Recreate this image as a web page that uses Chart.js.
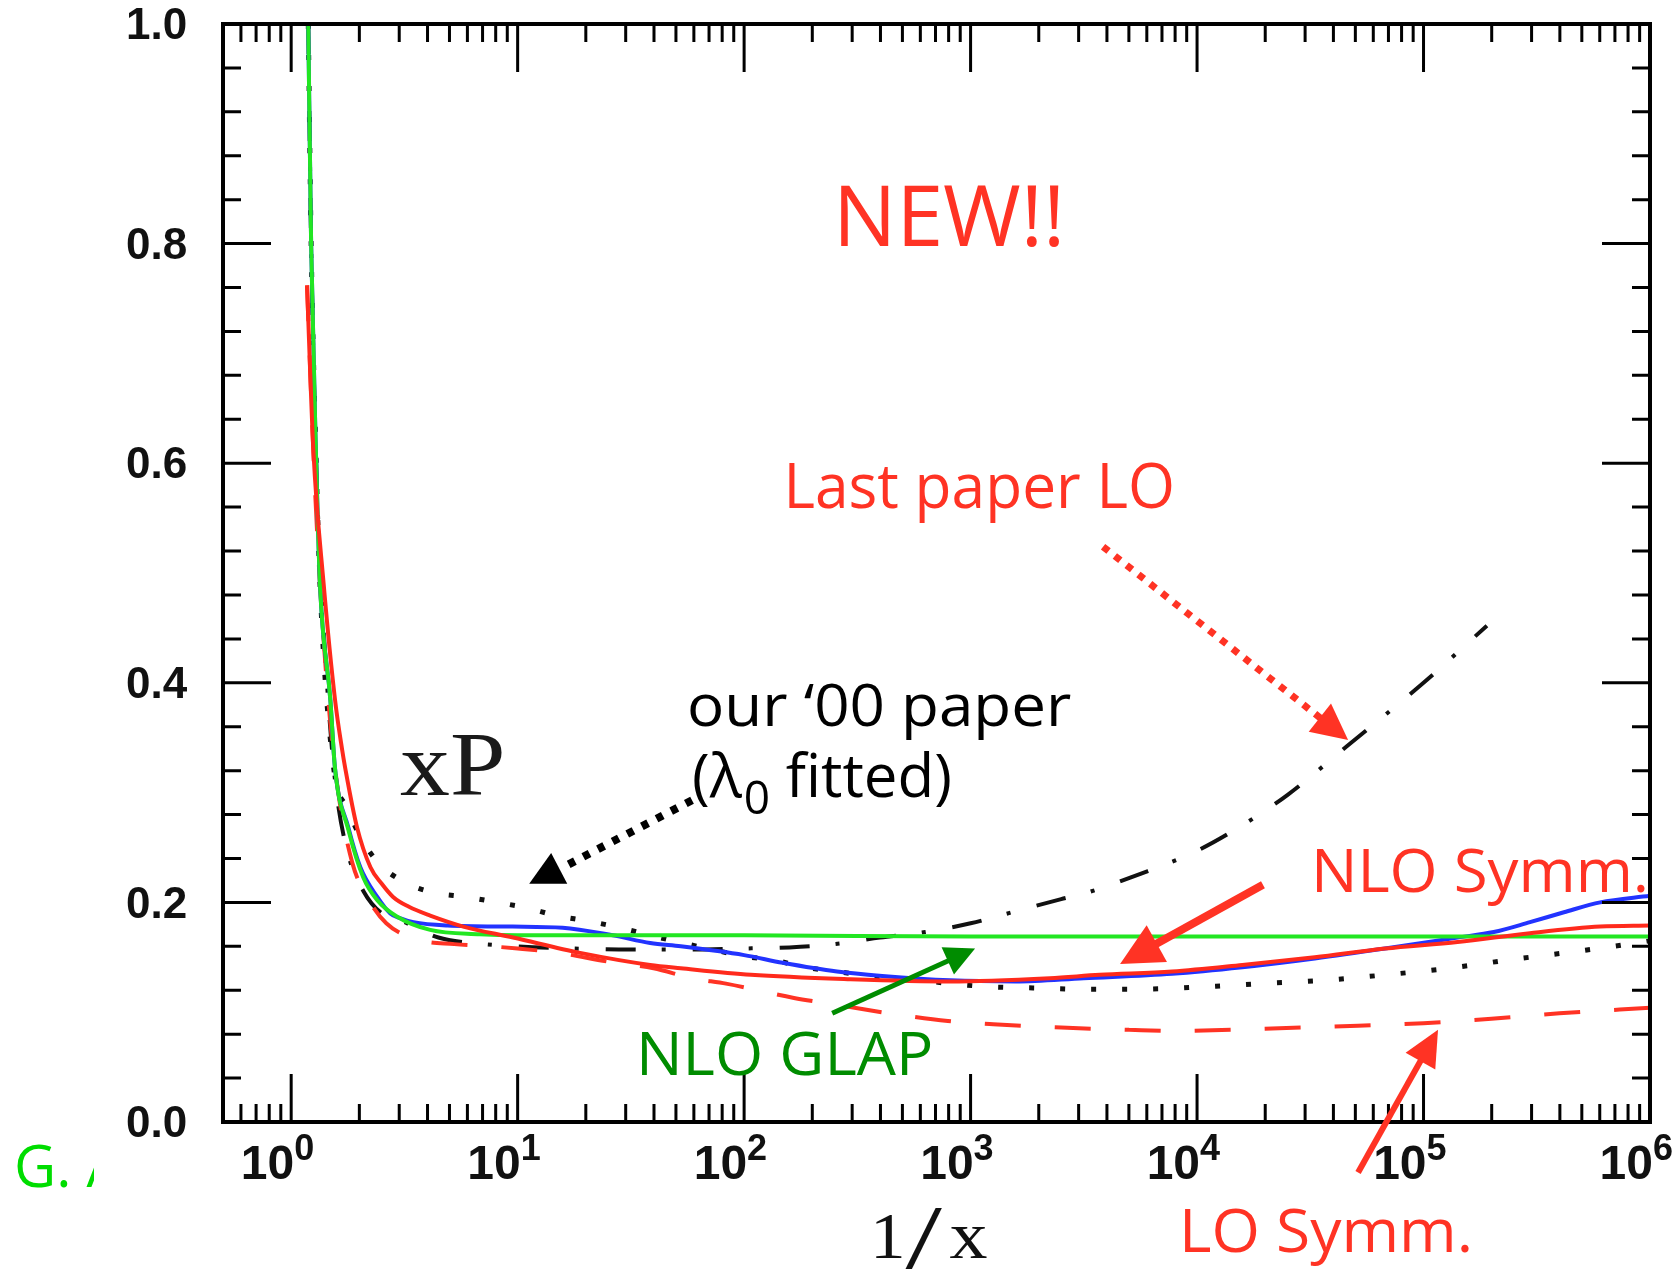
<!DOCTYPE html>
<html>
<head>
<meta charset="utf-8">
<title>xP vs 1/x</title>
<script src="https://cdn.jsdelivr.net/npm/chart.js@4.4.1/dist/chart.umd.min.js"></script>
<style>
  html, body { margin: 0; padding: 0; background: #fff; }
  #wrap { width: 1677px; height: 1271px; }
</style>
</head>
<body>
<div id="wrap"><canvas id="grafico" width="1677" height="1271"></canvas></div>
<script>
// Curves: x = 1/x (log scale), y = xP

// NLO GLAP (green, solid)
const glapX = [1.19, 1.225, 1.29, 1.34, 1.49, 1.56, 1.79, 2.08, 2.40, 2.94, 4.11, 6.8, 10, 100, 1e3, 1e4, 1e5, 1e6];
const glapY = [1.0, 0.80, 0.60, 0.49, 0.384, 0.323, 0.266, 0.223, 0.202, 0.187, 0.175, 0.171, 0.170, 0.170, 0.169, 0.169, 0.169, 0.169];

// blue solid curve
const blueX = [1.19, 1.225, 1.29, 1.34, 1.49, 1.56, 1.79, 2.02, 2.40, 2.74, 3.0, 3.47, 4.9, 9.5, 15.8, 26.3, 38.5, 52.5, 100, 148, 257, 407, 813, 1585, 3162, 7762, 15850, 33110, 67610, 141300, 204200, 295100, 416900, 602600, 1e6];
const blueY = [1.0, 0.80, 0.60, 0.49, 0.384, 0.323, 0.268, 0.232, 0.205, 0.190, 0.186, 0.182, 0.179, 0.178, 0.177, 0.170, 0.163, 0.160, 0.152, 0.145, 0.137, 0.133, 0.129, 0.128, 0.131, 0.135, 0.141, 0.149, 0.158, 0.168, 0.173, 0.182, 0.191, 0.200, 0.206];

// NLO Symm. (red, solid)
const nloSymmX = [1.175, 1.253, 1.39, 1.563, 1.679, 1.73, 1.95, 2.239, 2.512, 2.818, 3.311, 4.11, 5.754, 9.55, 18.88, 38.46, 52.48, 107.2, 295, 813, 2239, 3715, 7762, 15850, 33110, 67610, 141300, 295100, 602600, 1e6];
const nloSymmY = [0.762, 0.612, 0.491, 0.384, 0.339, 0.323, 0.269, 0.232, 0.217, 0.205, 0.196, 0.188, 0.178, 0.168, 0.154, 0.143, 0.140, 0.134, 0.130, 0.128, 0.131, 0.134, 0.137, 0.143, 0.150, 0.158, 0.164, 0.172, 0.178, 0.179];

// LO Symm. (red, dashed)
const loSymmX = [1.175, 1.259, 1.349, 1.479, 1.614, 1.862, 2.163, 2.63, 3.631, 5.248, 7.586, 10, 15.14, 25.12, 39.81, 58.88, 83.18, 166, 234, 437, 794, 1259, 2512, 5012, 7943, 19950, 39810, 1e5, 199500, 398100, 1e6];
const loSymmY = [0.762, 0.600, 0.480, 0.370, 0.300, 0.236, 0.205, 0.181, 0.166, 0.162, 0.160, 0.158, 0.154, 0.146, 0.140, 0.131, 0.126, 0.113, 0.108, 0.099, 0.092, 0.089, 0.086, 0.084, 0.083, 0.085, 0.087, 0.090, 0.094, 0.099, 0.104];

// Last paper LO (black, dash-dot)
const lastLoX = [1.19, 1.225, 1.29, 1.365, 1.486, 1.585, 1.778, 2.089, 2.512, 3.162, 4.467, 6.31, 10, 17.78, 31.62, 56.23, 100, 158.5, 251, 398, 631, 1000, 1585, 2512, 3162, 5623, 1e4, 15490, 25120, 45710, 1e5, 190500];
const lastLoY = [1.0, 0.80, 0.60, 0.48, 0.36, 0.30, 0.245, 0.21, 0.19, 0.182, 0.168, 0.163, 0.160, 0.158, 0.157, 0.157, 0.158, 0.159, 0.162, 0.168, 0.173, 0.181, 0.192, 0.203, 0.208, 0.226, 0.247, 0.269, 0.298, 0.342, 0.40, 0.452];

// our '00 paper (black, dotted)
const paper00X = [1.19, 1.225, 1.29, 1.34, 1.535, 1.778, 2.018, 2.427, 3.126, 4.236, 5.888, 8.128, 10.96, 14.79, 20.42, 28.18, 38.46, 53.7, 72.44, 100, 138, 186, 257, 355, 661, 912, 1259, 1995, 2951, 5623, 10470, 19050, 36310, 67610, 128800, 245500, 457100, 871000, 1e6];
const paper00Y = [1.0, 0.80, 0.60, 0.49, 0.325, 0.285, 0.26, 0.236, 0.219, 0.209, 0.205, 0.200, 0.195, 0.188, 0.183, 0.177, 0.170, 0.163, 0.157, 0.151, 0.147, 0.141, 0.137, 0.133, 0.128, 0.125, 0.123, 0.122, 0.121, 0.121, 0.123, 0.126, 0.129, 0.134, 0.140, 0.148, 0.155, 0.163, 0.165];

// Axis ticks
const xMajorTicks = [1, 10, 100, 1e3, 1e4, 1e5, 1e6];
const xTickExponents = ['0', '1', '2', '3', '4', '5', '6'];
const xMinorTicks = [];
[0.1, 1, 10, 100, 1e3, 1e4, 1e5].forEach(dec => {
    for (let k = 2; k <= 9; k++) {
        const v = k * dec;
        if (v > 0.5 && v < 1e6) xMinorTicks.push(v);
    }
});

const RED = '#ff3324';
const DARK_GREEN = '#008c00';

// Annotations, placed in (decade of 1/x, xP) coordinates
const notes = [
    { text: 'NEW!!', at: [2.428, 0.798], w: 218, font: '84px "Open Sans"', color: RED },
    { text: 'Last paper LO', at: [2.199, 0.559], w: 383, font: '63px "Open Sans"', color: RED },
    { text: 'our \u201800 paper', at: [1.762, 0.361], w: 381, font: '59px "Open Sans"', color: '#000' },
    { text: 'NLO Symm.', at: [4.525, 0.2095], w: 329, font: '61px "Open Sans"', color: RED },
    { text: 'NLO GLAP', at: [1.545, 0.0428], w: 289, font: '60px "Open Sans"', color: DARK_GREEN },
    { text: 'LO Symm.', at: [3.943, -0.118], w: 285, font: '60px "Open Sans"', color: RED },
    { text: 'xP', at: [0.481, 0.298], w: 102, font: '92px "Liberation Serif"', color: '#1a1a1a' }
];

const arrows = [
    { from: [3.585, 0.524], to: [4.667, 0.348], color: RED, width: 7, head: 36, half: 18, dash: [7, 8] },
    { from: [4.291, 0.216], to: [3.660, 0.144], color: RED, width: 8, head: 42, half: 21 },
    { from: [2.389, 0.099], to: [3.020, 0.158], color: DARK_GREEN, width: 5, head: 30, half: 15 },
    { from: [4.711, -0.046], to: [5.064, 0.084], color: RED, width: 6, head: 36, half: 17 }
];

function toPoints(xs, ys) {
    return xs.map((v, i) => ({ x: v, y: ys[i] }));
}

function makeLine(label, xs, ys, color, width, dash, order) {
    return {
        label: label,
        data: toPoints(xs, ys),
        borderColor: color,
        borderWidth: width,
        borderDash: dash,
        borderCapStyle: 'butt',
        pointRadius: 0,
        cubicInterpolationMode: 'monotone',
        fill: false,
        order: order
    };
}

// Text squeezed or stretched to the width measured on the picture
function fitText(ctx, str, x, y, w, font, color) {
    ctx.save();
    ctx.font = font;
    ctx.fillStyle = color;
    ctx.textAlign = 'left';
    const m = ctx.measureText(str);
    const ink = m.actualBoundingBoxLeft + m.actualBoundingBoxRight;
    const s = w / ink;
    ctx.translate(x, y);
    ctx.scale(s, 1);
    ctx.fillText(str, m.actualBoundingBoxLeft, 0);
    ctx.restore();
}

function drawArrow(ctx, x1, y1, x2, y2, o) {
    const dx = x2 - x1, dy = y2 - y1;
    const len = Math.hypot(dx, dy);
    const ux = dx / len, uy = dy / len;
    const bx = x2 - ux * o.head, by = y2 - uy * o.head;
    ctx.save();
    ctx.strokeStyle = o.color;
    ctx.fillStyle = o.color;
    ctx.lineWidth = o.width;
    ctx.lineCap = 'butt';
    ctx.setLineDash(o.dash || []);
    ctx.beginPath();
    ctx.moveTo(x1, y1);
    ctx.lineTo(bx + ux * 3, by + uy * 3);
    ctx.stroke();
    ctx.setLineDash([]);
    ctx.beginPath();
    ctx.moveTo(x2, y2);
    ctx.lineTo(bx - uy * o.half, by + ux * o.half);
    ctx.lineTo(bx + uy * o.half, by - ux * o.half);
    ctx.closePath();
    ctx.fill();
    ctx.restore();
}

const decoPlugin = {
    id: 'deco',
    afterDatasetsDraw(chart) {
        const { ctx, chartArea: a, scales } = chart;
        const xs = scales.x, ys = scales.y;

        // Frame and inward ticks on all four sides
        ctx.save();
        ctx.strokeStyle = '#000';
        ctx.lineCap = 'butt';
        ctx.lineWidth = 3;
        ctx.beginPath();
        const xTick = (v, len) => {
            const px = xs.getPixelForValue(v);
            ctx.moveTo(px, a.bottom); ctx.lineTo(px, a.bottom - len);
            ctx.moveTo(px, a.top); ctx.lineTo(px, a.top + len);
        };
        xMinorTicks.forEach(v => xTick(v, 18));
        xMajorTicks.forEach(v => xTick(v, 48));
        for (let k = 0; k <= 25; k++) {
            const py = ys.getPixelForValue(k * 0.04);
            const len = k % 5 === 0 ? 48 : 18;
            ctx.moveTo(a.left, py); ctx.lineTo(a.left + len, py);
            ctx.moveTo(a.right, py); ctx.lineTo(a.right - len, py);
        }
        ctx.stroke();
        ctx.lineWidth = 4;
        ctx.strokeRect(a.left, a.top, a.right - a.left, a.bottom - a.top);

        // x tick labels: 10 with exponent
        ctx.fillStyle = '#111';
        xMajorTicks.forEach((v, i) => {
            const px = xs.getPixelForValue(v);
            ctx.font = 'bold 48px "Liberation Sans"';
            ctx.textAlign = 'right';
            ctx.fillText('10', px + 3, a.bottom + 57);
            ctx.font = 'bold 36px "Liberation Sans"';
            ctx.textAlign = 'left';
            ctx.fillText(xTickExponents[i], px + 3, a.bottom + 38);
        });
        ctx.restore();
    },
    afterDraw(chart) {
        const { ctx, chartArea: a, scales } = chart;
        const P = pt => [scales.x.getPixelForValue(Math.pow(10, pt[0])), scales.y.getPixelForValue(pt[1])];

        notes.forEach(n => {
            const p = P(n.at);
            fitText(ctx, n.text, p[0], p[1], n.w, n.font, n.color);
        });

        // (λ0 fitted) with subscript
        ctx.save();
        const q = P([1.770, 0.296]);
        ctx.fillStyle = '#000';
        ctx.font = '60px "Open Sans"';
        ctx.fillText('(\u03bb', q[0], q[1]);
        let cx = q[0] + ctx.measureText('(\u03bb').width + 2;
        ctx.font = '46px "Open Sans"';
        ctx.fillText('0', cx, q[1] + 17);
        cx += ctx.measureText('0').width;
        ctx.font = '60px "Open Sans"';
        ctx.fillText(' fitted)', cx, q[1]);
        ctx.restore();

        arrows.forEach(o => {
            const f = P(o.from), t = P(o.to);
            drawArrow(ctx, f[0], f[1], t[0], t[1], o);
        });

        // black dotted arrow with upright head
        ctx.save();
        const t0 = P([1.770, 0.293]), t1 = P([1.210, 0.233]);
        ctx.strokeStyle = '#000';
        ctx.fillStyle = '#000';
        ctx.lineWidth = 8;
        ctx.setLineDash([7, 9.5]);
        ctx.beginPath();
        ctx.moveTo(t0[0], t0[1]);
        ctx.lineTo(t1[0], t1[1]);
        ctx.stroke();
        const h0 = P([1.148, 0.245]), h1 = P([1.051, 0.217]), h2 = P([1.219, 0.217]);
        ctx.beginPath();
        ctx.moveTo(h0[0], h0[1]);
        ctx.lineTo(h1[0], h1[1]);
        ctx.lineTo(h2[0], h2[1]);
        ctx.closePath();
        ctx.fill();
        ctx.restore();

        // axis title 1/x
        const mid = (a.left + a.right) / 2;
        fitText(ctx, '1', mid - 61, a.bottom + 136, 27, '66px "Liberation Serif"', '#111');
        fitText(ctx, '/', mid - 31, a.bottom + 146, 37, '92px "Liberation Serif"', '#111');
        fitText(ctx, 'x', mid + 13, a.bottom + 136, 38, '68px "Liberation Serif"', '#111');

        // clipped credit at lower left
        ctx.save();
        ctx.beginPath();
        ctx.rect(0, a.bottom, 94, 120);
        ctx.clip();
        ctx.fillStyle = '#00dd00';
        ctx.font = '58px "Open Sans"';
        ctx.fillText('G. A', 14, a.bottom + 65);
        ctx.restore();
    }
};

const chart = new Chart(document.getElementById('grafico'), {
    type: 'line',
    data: {
        datasets: [
            makeLine('NLO Symm.', nloSymmX, nloSymmY, '#ff2a1c', 4, [], 1),
            makeLine('NLO GLAP', glapX, glapY, '#22e622', 4, [], 2),
            makeLine('blue', blueX, blueY, '#2233ff', 4, [], 3),
            makeLine('LO Symm.', loSymmX, loSymmY, '#ff3324', 4, [36, 34], 4),
            makeLine('Last paper LO', lastLoX, lastLoY, '#111', 4, [30, 26, 4, 27], 5),
            makeLine("our '00 paper", paper00X, paper00Y, '#111', 5, [5, 26], 6)
        ]
    },
    options: {
        responsive: false,
        animation: false,
        devicePixelRatio: 1,
        layout: { padding: { top: 24, right: 27, bottom: 0, left: 126 } },
        plugins: { legend: { display: false }, tooltip: { enabled: false } },
        scales: {
            x: {
                type: 'logarithmic',
                min: 0.5,
                max: 1e6,
                ticks: { display: false },
                grid: { display: false, drawTicks: false },
                border: { display: false },
                afterFit: s => { s.height = 149; }
            },
            y: {
                min: 0,
                max: 1,
                ticks: {
                    stepSize: 0.2,
                    padding: 0,
                    crossAlign: 'far',
                    labelOffset: 3,
                    color: '#111',
                    font: { family: 'Liberation Sans', size: 44, weight: 'bold', lineHeight: 1 },
                    callback: v => v.toFixed(1)
                },
                grid: { display: false, drawTicks: false },
                border: { display: false },
                afterFit: s => { s.width = 97; }
            }
        }
    },
    plugins: [decoPlugin]
});
</script>
</body>
</html>
